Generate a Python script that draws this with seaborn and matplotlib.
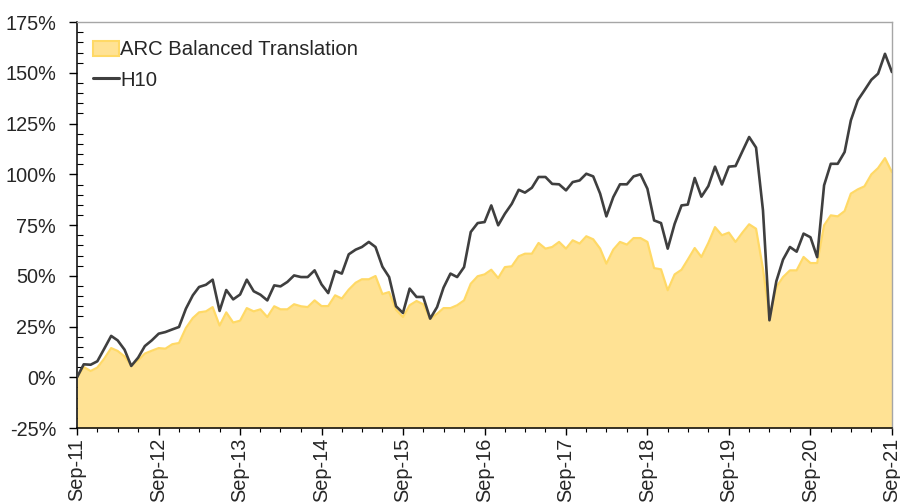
import numpy as np
import pandas as pd
import matplotlib
matplotlib.use("Agg")
import matplotlib.pyplot as plt
import matplotlib.dates as mdates
from matplotlib.patches import Patch
from matplotlib.lines import Line2D
from matplotlib.ticker import MultipleLocator, FuncFormatter
import seaborn as sns

# Monthly cumulative returns (%), Sep-2011 .. Sep-2021
start_month = "2011-09-01"
end_month = "2021-09-01"

arc_balanced = [
    0.0, 5.1, 3.1, 4.8, 9.2, 14.4, 13.0, 10.3, 5.9, 8.4, 11.7, 13.1,
    14.4, 14.1, 16.3, 16.9, 24.3, 29.2, 32.0, 32.5, 34.6, 25.5, 32.0, 27.0,
    27.9, 34.1, 32.5, 33.5, 29.7, 35.0, 33.5, 33.5, 36.0, 35.0, 34.6, 37.9,
    35.1, 35.1, 40.4, 38.8, 43.2, 46.6, 48.3, 48.3, 49.9, 41.0, 42.0, 33.3,
    29.7, 35.5, 37.6, 36.0, 28.9, 31.3, 34.1, 34.1, 35.5, 37.9, 46.1, 49.8,
    50.7, 53.0, 48.9, 54.3, 54.7, 59.6, 60.9, 60.9, 66.2, 63.4, 64.2, 66.7,
    63.4, 67.5, 65.9, 69.5, 68.0, 63.4, 56.0, 62.9, 66.7, 65.4, 68.6, 68.6,
    66.7, 53.8, 53.2, 42.9, 50.7, 53.0, 58.0, 63.7, 59.3, 66.2, 74.0, 70.0,
    71.3, 66.7, 71.3, 75.4, 73.2, 53.5, 30.0, 44.5, 49.4, 52.7, 52.7, 59.3,
    56.3, 56.3, 74.9, 79.8, 79.3, 81.9, 90.5, 92.6, 94.1, 100.0, 103.1, 108.0,
    101.1,
]

h10 = [
    0.0, 6.4, 6.2, 7.9, 14.1, 20.4, 18.2, 13.6, 5.6, 9.7, 15.4, 18.2,
    21.5, 22.3, 23.6, 24.8, 33.8, 40.4, 44.5, 45.6, 48.1, 32.7, 43.0, 38.4,
    40.8, 48.1, 42.4, 40.7, 37.9, 45.3, 44.8, 47.0, 50.2, 49.4, 49.4, 52.7,
    45.8, 41.5, 52.4, 51.1, 60.6, 62.9, 64.2, 66.7, 64.2, 54.5, 49.4, 35.0,
    31.7, 43.7, 39.6, 39.6, 28.9, 34.6, 44.2, 51.1, 49.4, 54.3, 71.6, 76.0,
    76.5, 84.7, 74.9, 80.6, 85.5, 92.4, 91.0, 93.4, 98.7, 98.7, 95.3, 95.1,
    92.1, 96.2, 97.0, 100.3, 99.0, 90.5, 79.3, 88.8, 95.1, 95.1, 99.0, 100.0,
    92.9, 77.3, 76.0, 63.4, 75.6, 84.7, 85.1, 98.2, 89.0, 94.2, 103.8, 95.0,
    103.8, 104.1, 111.4, 118.4, 113.2, 82.3, 28.1, 47.4, 58.0, 64.2, 61.9, 70.8,
    69.0, 59.2, 94.6, 105.2, 105.2, 111.0, 126.6, 136.5, 141.4, 146.6, 149.6, 159.4,
    150.4,
]

series_names = ["ARC Balanced Translation", "H10"]
y_ticks = [-25, 0, 25, 50, 75, 100, 125, 150, 175]

dates = pd.date_range(start_month, end_month, freq="MS")
df = pd.DataFrame({"date": dates, "arc": arc_balanced, "h10": h10})

sns.set_theme(style="white")
plt.rcParams["font.family"] = ["Liberation Sans", "DejaVu Sans"]

fill_color = "#FFE294"
edge_color = "#FFD966"
line_color = "#3F3F3F"
fs = 14.3

fig = plt.figure(figsize=(9.0, 5.03), dpi=100)
ax = fig.add_axes([0.0856, 0.149, 0.9054, 0.807])

y_min, y_max = y_ticks[0], y_ticks[-1]

# Area series filled down to the axis floor
ax.fill_between(df["date"], df["arc"], y_min, color=fill_color, lw=0, zorder=1)
sns.lineplot(data=df, x="date", y="arc", color=edge_color, lw=1.6, ax=ax, zorder=2)
sns.lineplot(data=df, x="date", y="h10", color=line_color, lw=1.9, ax=ax, zorder=3)

ax.set_xlim(dates[0], dates[-1])
ax.set_ylim(y_min, y_max)
ax.set_xlabel("")
ax.set_ylabel("")

# Y axis: percent labels, 5% minor ticks inside
ax.set_yticks(y_ticks)
ax.yaxis.set_major_formatter(FuncFormatter(lambda v, _: f"{v:.0f}%"))
ax.yaxis.set_minor_locator(MultipleLocator(5))
ax.tick_params(axis="y", which="major", direction="out", length=6, width=1,
               color="black", labelsize=fs, pad=9, left=True)
ax.tick_params(axis="y", which="minor", direction="in", length=4, width=0.8,
               color="black", left=True)

# X axis: yearly September labels, quarterly minor ticks
ax.xaxis.set_major_locator(mdates.MonthLocator(bymonth=9))
ax.xaxis.set_major_formatter(mdates.DateFormatter("%b-%y"))
ax.xaxis.set_minor_locator(mdates.MonthLocator(bymonth=[3, 6, 9, 12]))
ax.tick_params(axis="x", which="major", direction="out", length=5, width=1,
               color="black", labelsize=fs, pad=2, bottom=True, labelrotation=90)
ax.tick_params(axis="x", which="minor", direction="out", length=3, width=0.8,
               color="black", bottom=True)

for side in ["left", "bottom"]:
    ax.spines[side].set_color("black")
    ax.spines[side].set_linewidth(1.1)
for side in ["top", "right"]:
    ax.spines[side].set_color("#A6A6A6")
    ax.spines[side].set_linewidth(1.0)
ax.grid(False)

handles = [
    Patch(facecolor=fill_color, edgecolor=edge_color, linewidth=1.5),
    Line2D([0], [0], color=line_color, lw=2.2),
]
ax.legend(handles, series_names, loc="upper left", bbox_to_anchor=(0.002, 0.99),
          frameon=False, fontsize=14.6, handlelength=1.28, handleheight=0.75,
          handletextpad=0.06, labelspacing=0.55, borderaxespad=0.3)

fig.savefig("out.png", dpi=100)
